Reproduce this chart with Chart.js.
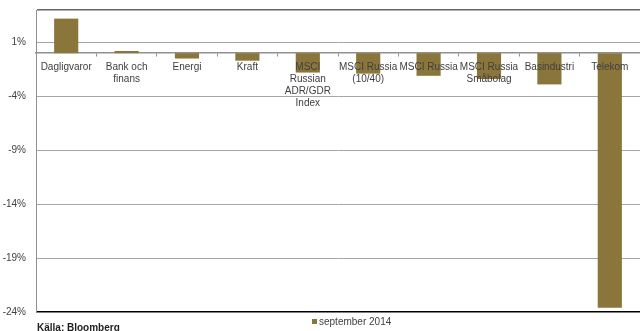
<!DOCTYPE html>
<html>
<head>
<meta charset="utf-8">
<script src="https://cdn.jsdelivr.net/npm/chart.js@4.4.1/dist/chart.umd.min.js"></script>
<style>
  html, body { margin: 0; padding: 0; background: #fff; }
  #wrap { width: 640px; height: 331px; }
</style>
</head>
<body>
<div id="wrap"><canvas id="sectorChart"></canvas></div>
<script>
  const categories = [
    'Dagligvaror',
    ['Bank och', 'finans'],
    'Energi',
    'Kraft',
    ['MSCI', 'Russian', 'ADR/GDR', 'Index'],
    ['MSCI Russia', '(10/40)'],
    'MSCI Russia',
    ['MSCI Russia', 'Småbolag'],
    'Basindustri',
    'Telekom'
  ];
  const seriesName = 'september 2014';
  const septemberValues = [3.2, 0.2, -0.5, -0.7, -1.8, -1.9, -2.1, -2.4, -2.9, -23.6];
  const yTicks = [1, -4, -9, -14, -19, -24];
  const sourceText = 'Källa: Bloomberg';

  const barColor = '#8a763b';
  const fontFamily = '"Liberation Sans", Arial, sans-serif';

  // legend + source line drawn under the plot
  const footerPlugin = {
    id: 'footer',
    afterDraw(chart) {
      const c = chart.ctx;
      c.save();
      c.fillStyle = barColor;
      c.fillRect(312, 319, 5, 5);
      c.fillStyle = '#404040';
      c.font = '10px ' + fontFamily;
      c.textBaseline = 'middle';
      c.fillText(chart.data.datasets[0].label, 319, 322);
      c.fillStyle = '#222';
      c.font = 'bold 10px ' + fontFamily;
      c.fillText(sourceText, 37, 328);
      c.restore();
    }
  };

  const ctx = document.getElementById('sectorChart').getContext('2d');
  new Chart(ctx, {
    type: 'bar',
    data: {
      labels: categories,
      datasets: [{
        label: seriesName,
        data: septemberValues,
        backgroundColor: barColor,
        barPercentage: 0.4,
        categoryPercentage: 1.0
      }]
    },
    options: {
      responsive: true,
      maintainAspectRatio: false,
      animation: false,
      layout: { padding: { top: 10, right: 0, bottom: 19, left: 0 } },
      plugins: {
        legend: { display: false },
        tooltip: { enabled: false }
      },
      scales: {
        x: {
          position: { y: 0 },
          offset: true,
          afterFit(scale) {
            scale.paddingTop = 0;
            scale.paddingBottom = 0;
            scale.paddingLeft = 0;
            scale.paddingRight = 0;
          },
          border: { display: true, color: '#909090', width: 1.5 },
          grid: {
            offset: true,
            drawOnChartArea: false,
            drawTicks: true,
            tickLength: 3,
            color: '#909090'
          },
          ticks: {
            z: 1,
            color: '#404040',
            font: { family: fontFamily, size: 10 },
            padding: 5,
            maxRotation: 0,
            autoSkip: false
          }
        },
        y: {
          min: -24,
          max: 4,
          afterBuildTicks(scale) {
            scale.ticks = yTicks.concat([4]).map(v => ({ value: v }));
          },
          afterFit(scale) {
            scale.width = 36;
            scale.paddingTop = 0;
            scale.paddingBottom = 0;
          },
          border: { display: true, color: '#909090', width: 1 },
          grid: {
            drawTicks: false,
            color: ctx => ctx.tick.value === -24 ? '#000' : (ctx.tick.value === 4 ? '#666' : '#a6a6a6'),
            lineWidth: ctx => ctx.tick.value === -24 ? 1.5 : (ctx.tick.value === 4 ? 1.5 : 1)
          },
          ticks: {
            color: '#404040',
            font: { family: fontFamily, size: 10 },
            padding: 10,
            callback: v => v === 4 ? '' : v + '%'
          }
        }
      }
    },
    plugins: [footerPlugin]
  });
</script>
</body>
</html>
